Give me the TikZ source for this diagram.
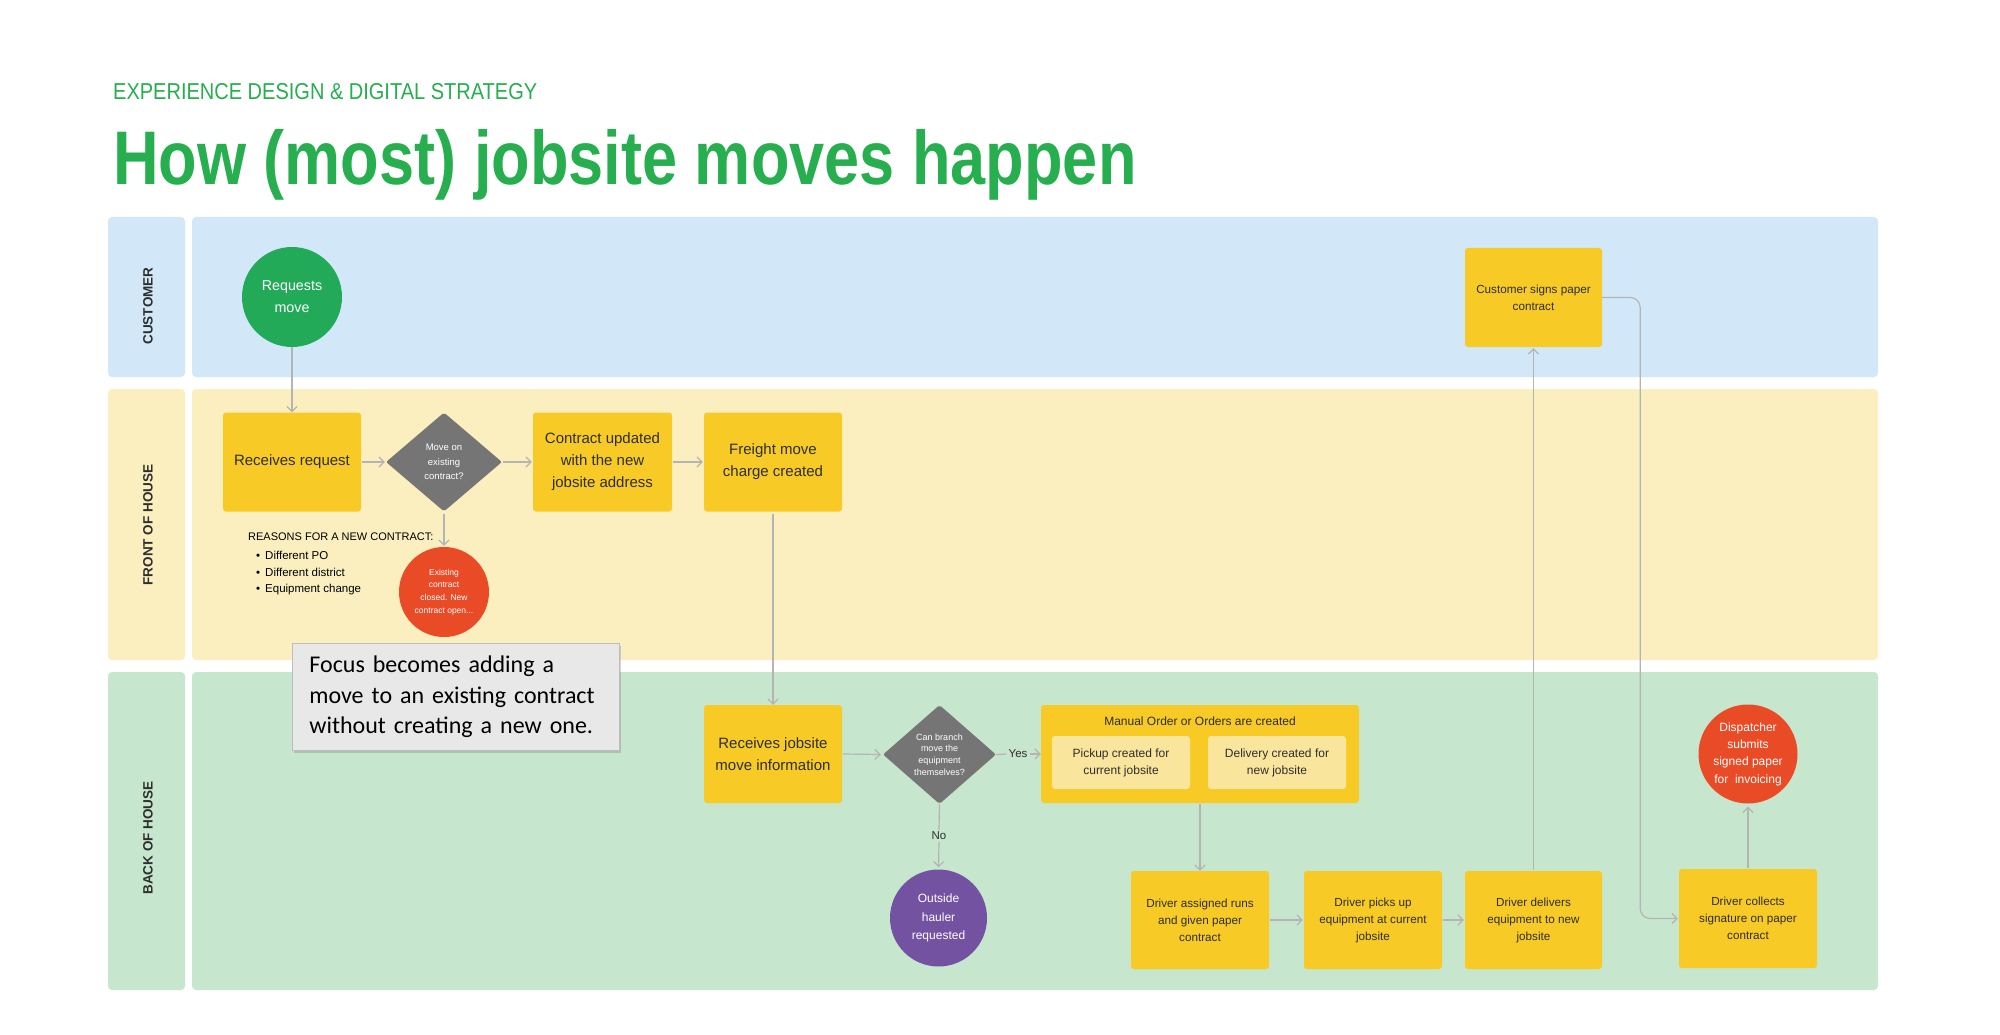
\documentclass[tikz,border=0pt]{standalone}
\usepackage{fontspec}
\setmainfont{Liberation Sans}
\newfontfamily\titlefont[FakeStretch=0.83]{Liberation Sans}
\newfontfamily\subfont[FakeStretch=0.87]{Liberation Sans}
\newfontfamily\calib{Carlito}
\usetikzlibrary{shapes.geometric,arrows.meta,shadows}
\definecolor{titlegreen}{HTML}{27AE4F}
\definecolor{custlane}{HTML}{D2E8F9}
\definecolor{fohlane}{HTML}{FBEFBF}
\definecolor{bohlane}{HTML}{C7E6CE}
\definecolor{boxyellow}{HTML}{F7CA26}
\definecolor{innerbox}{HTML}{FAE59D}
\definecolor{diagray}{HTML}{757575}
\definecolor{circgreen}{HTML}{22AA58}
\definecolor{circred}{HTML}{E94B26}
\definecolor{circpurple}{HTML}{7352A2}
\definecolor{textdark}{HTML}{2E2E2E}
\definecolor{linegray}{HTML}{B4B4B4}
\definecolor{focusfill}{HTML}{E8E8E8}
\definecolor{focusborder}{HTML}{BDBDBD}
\tikzset{
  lane/.style={rounded corners=4pt, draw=none},
  lanelabel/.style={rotate=90, text=textdark, font=\bfseries\fontsize{13.5}{14}\selectfont},
  box/.style={fill=boxyellow, rounded corners=3pt, minimum width=138pt, minimum height=98pt, align=center, inner sep=0pt, text=textdark, font=\fontsize{15}{22}\selectfont},
  sbox/.style={box, font=\fontsize{11.7}{17}\selectfont},
  ibox/.style={fill=innerbox, rounded corners=3pt, minimum width=138pt, minimum height=53pt, align=center, inner sep=0pt, text=textdark, font=\fontsize{12}{17}\selectfont},
  dia/.style={diamond, fill=diagray, rounded corners=2pt, minimum width=116pt, minimum height=99pt, inner sep=0pt, align=center, text=white},
  circ/.style={circle, inner sep=0pt, align=center, text=white},
  arr/.style={draw=linegray, line width=1.2pt, -{Straight Barb[length=5pt,width=10pt]}},
  conn/.style={draw=linegray, line width=1.2pt},
  lbl/.style={text=textdark, inner sep=2pt, font=\fontsize{11.5}{13}\selectfont}
}
\begin{document}
\begin{tikzpicture}[x=1pt,y=-1pt]
\path[use as bounding box, fill=white] (0,0) rectangle (2000,1035);
% titles
\node[anchor=base west, inner sep=0pt, text=titlegreen, font=\subfont\fontsize{23}{23}\selectfont] (sub) at (113,99.5) {EXPERIENCE DESIGN \& DIGITAL STRATEGY};
\node[anchor=base west, inner sep=0pt, text=titlegreen, font=\titlefont\bfseries\fontsize{76}{76}\selectfont] (title) at (113,185) {How (most) jobsite moves happen};
% lanes
\fill[lane, custlane] (108,217) rectangle (185,377);
\fill[lane, custlane] (192,217) rectangle (1878,377);
\fill[lane, fohlane] (108,389) rectangle (185,660);
\fill[lane, fohlane] (192,389) rectangle (1878,660);
\fill[lane, bohlane] (108,672) rectangle (185,990);
\fill[lane, bohlane] (192,672) rectangle (1878,990);
\node[lanelabel] (lcust) at (148,306) {CUSTOMER};
\node[lanelabel] (lfoh) at (148,525) {FRONT OF HOUSE};
\node[lanelabel] (lboh) at (148,838) {BACK OF HOUSE};
% customer lane
\node[circ, fill=circgreen, minimum size=100pt, font=\fontsize{14.3}{21.7}\selectfont] (req) at (292,297) {Requests\\move};
\node[sbox, minimum width=137pt, minimum height=99pt] (csign) at (1533.5,297.5) {Customer signs paper\\contract};
% front of house
\node[box, minimum height=99pt] (recv) at (292,462) {Receives request};
\node[dia, font=\fontsize{9.5}{14.3}\selectfont] (d1) at (444,462) {Move on\\existing\\contract?};
\node[box, minimum width=139pt, minimum height=99pt] (cupd) at (602.5,462) {Contract updated\\with the new\\jobsite address};
\node[box, minimum height=99pt] (freight) at (773,462) {Freight move\\charge created};
\node[circ, fill=circred, minimum size=90pt, font=\fontsize{8.5}{12.7}\selectfont] (exist) at (444,592) {Existing\\contract\\closed. New\\contract open...};
\node[anchor=west, inner sep=0pt, text=black, font=\fontsize{11}{13}\selectfont] (reasons) at (248,537) {REASONS FOR A NEW CONTRACT:};
\node[anchor=west, inner sep=0pt, text=black, font=\fontsize{11.5}{13}\selectfont] (r1) at (256,555) {\textbullet\hspace{5pt}Different PO};
\node[anchor=west, inner sep=0pt, text=black, font=\fontsize{11.5}{13}\selectfont] (r2) at (256,572.5) {\textbullet\hspace{5pt}Different district};
\node[anchor=west, inner sep=0pt, text=black, font=\fontsize{11.5}{13}\selectfont] (r3) at (256,590) {\textbullet\hspace{5pt}Equipment change};
% back of house
\node[box] (rjob) at (773,754) {Receives jobsite\\move information};
\node[dia, minimum width=113pt, font=\fontsize{9}{11.6}\selectfont] (d2) at (939.5,754.5) {Can branch\\move the\\equipment\\themselves?};
\node[lbl] (yes) at (1018,754) {Yes};
\node[fill=boxyellow, rounded corners=3pt, minimum width=318pt, minimum height=98pt, inner sep=0pt] (manual) at (1200,754) {};
\node[text=textdark, inner sep=0pt, font=\fontsize{12}{13}\selectfont] (mtitle) at (1200,721) {Manual Order or Orders are created};
\node[ibox] (pick) at (1121,762.5) {Pickup created for\\current jobsite};
\node[ibox] (deliv) at (1277,762.5) {Delivery created for\\new jobsite};
\node[lbl] (no) at (939,836) {No};
\node[circ, fill=circpurple, minimum size=97pt, font=\fontsize{12}{18.3}\selectfont] (hauler) at (938.5,918) {Outside\\hauler\\requested};
\node[sbox] (dassign) at (1200,920) {Driver assigned runs\\and given paper\\contract};
\node[sbox] (dpick) at (1373,920) {Driver picks up\\equipment at current\\jobsite};
\node[sbox, minimum width=137pt] (ddeliv) at (1533.5,920) {Driver delivers\\equipment to new\\jobsite};
\node[sbox, minimum height=99pt] (dcollect) at (1748,918.5) {Driver collects\\signature on paper\\contract};
\node[circ, fill=circred, minimum size=99pt, font=\fontsize{12}{17.3}\selectfont] (disp) at (1748,754) {Dispatcher\\submits\\signed paper\\for\ \ invoicing};
% focus note
\node[anchor=north west, draw=focusborder, fill=focusfill, line width=0.8pt,
      drop shadow={opacity=0.3, shadow xshift=2pt, shadow yshift=-3pt, fill=black!55},
      inner xsep=17pt, inner ysep=0pt, text width=293pt, minimum height=107pt, align=left,
      text=black, font=\calib\fontsize{24}{30.6}\selectfont] (focus) at (292,643)
      {Focus becomes adding a\\move to an existing contract\\without creating a new one.};
% connectors
\draw[arr] (req.south) -- (recv.north);
\draw[arr, shorten <=1pt, shorten >=1pt] (recv.east) -- (d1.west);
\draw[arr, shorten <=1pt, shorten >=1pt] (d1.east) -- (cupd.west);
\draw[arr, shorten <=1pt, shorten >=1pt] (cupd.east) -- (freight.west);
\draw[arr, shorten <=2pt, shorten >=1pt] (d1.south) -- (exist.north);
\draw[arr, shorten <=2pt] (freight.south) -- (rjob.north);
\draw[arr, shorten <=1pt, shorten >=2pt] (rjob.east) -- (d2.west);
\draw[conn] (d2.east) -- (yes.west);
\draw[arr] (yes.east) -- (manual.west);
\draw[conn] (d2.south) -- (no.north);
\draw[arr, shorten >=2pt] (no.south) -- (hauler.north);
\draw[arr, shorten <=1pt] (manual.south) -- (dassign.north);
\draw[arr, shorten <=1pt, shorten >=1pt] (dassign.east) -- (dpick.west);
\draw[arr, shorten <=1pt, shorten >=1pt] (dpick.east) -- (ddeliv.west);
\draw[arr, shorten <=1pt, shorten >=1pt] (ddeliv.north) -- (csign.south);
\draw[arr, rounded corners=10pt, shorten >=1pt] (csign.east) -- ++(38,0) |- (dcollect.west);
\draw[arr, shorten <=1pt, shorten >=3pt] (dcollect.north) -- (disp.south);
\end{tikzpicture}
\end{document}
